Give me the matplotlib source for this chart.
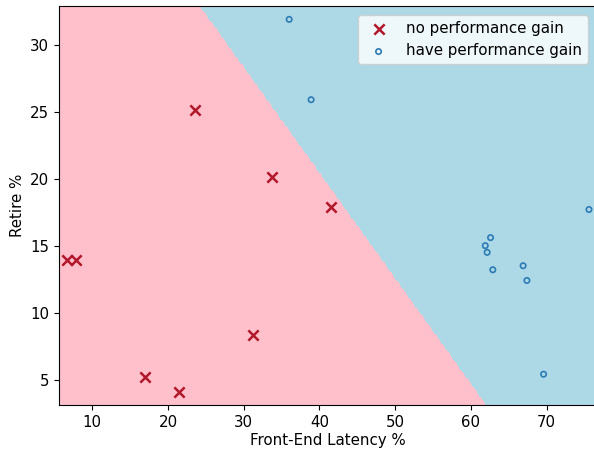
import numpy as np
import matplotlib
matplotlib.use('Agg')
import matplotlib.pyplot as plt
from matplotlib.colors import ListedColormap

plt.rcParams['font.size'] = 10.8

# points with no performance gain
no_gain_x = [6.6, 7.9, 23.6, 33.7, 41.5, 31.2, 16.9, 21.5]
no_gain_y = [13.9, 13.9, 25.1, 20.1, 17.9, 8.3, 5.2, 4.1]

# points with performance gain
gain_x = [36.0, 38.9, 75.6, 62.6, 61.9, 62.15, 62.9, 66.9, 67.4, 69.6]
gain_y = [31.9, 25.9, 17.7, 15.6, 15.0, 14.5, 13.2, 13.5, 12.4, 5.4]

# linear decision function: w1*x + w2*y + b > 0 -> gain
w1, w2, b = 1.0, 1.269, -66.05

all_x = no_gain_x + gain_x
all_y = no_gain_y + gain_y
x_min, x_max = min(all_x) - 1, max(all_x) + 1
y_min, y_max = min(all_y) - 1, max(all_y) + 1

xx, yy = np.meshgrid(np.arange(x_min, x_max, 0.18), np.arange(y_min, y_max, 0.18))
Z = (w1 * xx + w2 * yy + b > 0).astype(int)

fig = plt.figure(figsize=(5.94, 4.5), dpi=100)
ax = fig.add_axes([0.0993, 0.1, 0.905, 0.8867])
ax.contourf(xx, yy, Z, levels=[-0.5, 0.5, 1.5], cmap=ListedColormap(['pink', 'lightblue']))

ax.scatter(no_gain_x, no_gain_y, marker='x', c='#b2182b', s=55, linewidths=1.8, label='no performance gain', zorder=3)
ax.scatter(gain_x, gain_y, marker='o', facecolors='none', edgecolors='#2c7bb6', s=15, linewidths=1.2, label='have performance gain', zorder=3)

ax.set_xlim(x_min, x_max)
ax.set_ylim(y_min, y_max)
ax.set_xlabel('Front-End Latency %', labelpad=2)
ax.set_ylabel('Retire %')
ax.legend(loc='upper right', borderaxespad=0.6)

fig.savefig('out.png', dpi=100)
